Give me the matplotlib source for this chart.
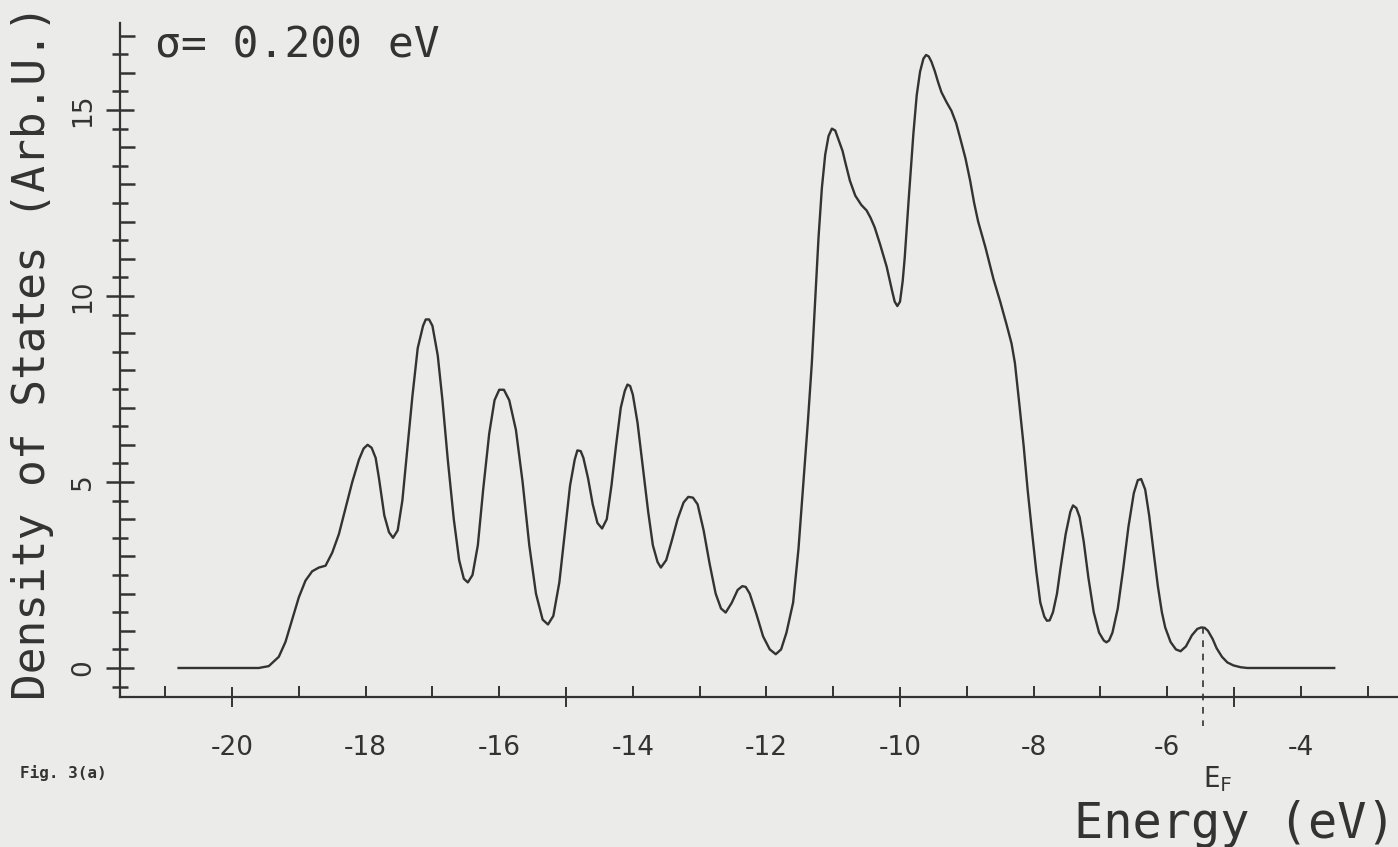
import matplotlib
matplotlib.use("Agg")
import matplotlib.pyplot as plt

# ---- data ----
energy = [-20.8, -20.0, -19.6, -19.45, -19.3, -19.2, -19.1, -19.0, -18.9, -18.8,
          -18.7, -18.6, -18.5, -18.4, -18.3, -18.2, -18.1, -18.03, -17.97, -17.91,
          -17.85, -17.8, -17.72, -17.65, -17.59, -17.52, -17.45, -17.38, -17.3, -17.22,
          -17.14, -17.1, -17.05, -17.0, -16.92, -16.85, -16.77, -16.68, -16.6, -16.53,
          -16.47, -16.4, -16.32, -16.24, -16.15, -16.07, -16.0, -15.93, -15.85, -15.75,
          -15.65, -15.55, -15.45, -15.35, -15.27, -15.19, -15.1, -15.02, -14.94, -14.87,
          -14.83, -14.78, -14.74, -14.67, -14.6, -14.53, -14.46, -14.39, -14.32, -14.25,
          -14.18, -14.12, -14.08, -14.04, -14.0, -13.93, -13.85, -13.77, -13.7, -13.63,
          -13.58, -13.5, -13.42, -13.33, -13.24, -13.17, -13.1, -13.03, -12.94, -12.85,
          -12.76, -12.68, -12.61, -12.52, -12.43, -12.36, -12.31, -12.25, -12.15, -12.05,
          -11.95, -11.86, -11.78, -11.7, -11.6, -11.52, -11.45, -11.38, -11.32, -11.27,
          -11.22, -11.17, -11.12, -11.07, -11.02, -10.97, -10.92, -10.86, -10.82, -10.75,
          -10.67, -10.58, -10.5, -10.44, -10.38, -10.3, -10.2, -10.12, -10.08, -10.04,
          -10.0, -9.96, -9.93, -9.87, -9.8, -9.75, -9.7, -9.65, -9.61, -9.57,
          -9.53, -9.48, -9.43, -9.38, -9.3, -9.23, -9.16, -9.1, -9.02, -8.95,
          -8.89, -8.83, -8.72, -8.6, -8.5, -8.4, -8.33, -8.28, -8.22, -8.15,
          -8.09, -8.03, -7.96, -7.9, -7.84, -7.8, -7.76, -7.71, -7.65, -7.6,
          -7.52, -7.45, -7.41, -7.36, -7.31, -7.25, -7.18, -7.1, -7.02, -6.95,
          -6.91, -6.87, -6.82, -6.74, -6.66, -6.58, -6.5, -6.44, -6.39, -6.33,
          -6.27, -6.21, -6.14, -6.08, -6.03, -5.95, -5.87, -5.8, -5.72, -5.63,
          -5.55, -5.49, -5.44, -5.39, -5.32, -5.26, -5.18, -5.1, -5.01, -4.9,
          -4.8, -3.5]
dos = [0, 0, 0, 0.05, 0.3, 0.7, 1.3, 1.9, 2.35, 2.6,
       2.7, 2.75, 3.1, 3.6, 4.3, 5.0, 5.6, 5.9, 6.0, 5.92,
       5.65, 5.1, 4.1, 3.65, 3.5, 3.7, 4.5, 5.8, 7.3, 8.6,
       9.2, 9.37, 9.37, 9.2, 8.4, 7.2, 5.6, 4.0, 2.9, 2.4,
       2.3, 2.5, 3.3, 4.8, 6.3, 7.2, 7.48, 7.48, 7.2, 6.4,
       5.0, 3.3, 2.0, 1.3, 1.17, 1.4, 2.3, 3.6, 4.9, 5.6,
       5.85, 5.83, 5.65, 5.1, 4.4, 3.9, 3.75, 4.0, 4.9, 6.0,
       7.0, 7.45, 7.62, 7.58, 7.35, 6.6, 5.4, 4.2, 3.3, 2.85,
       2.7, 2.9, 3.4, 4.0, 4.45, 4.6, 4.58, 4.4, 3.7, 2.8,
       2.0, 1.6, 1.49, 1.75, 2.1, 2.2, 2.18, 2.0, 1.45, 0.85,
       0.5, 0.37, 0.5, 0.95, 1.76, 3.2, 4.88, 6.6, 8.2, 9.9,
       11.57, 12.9, 13.8, 14.3, 14.5, 14.45, 14.2, 13.9, 13.6, 13.1,
       12.7, 12.45, 12.3, 12.1, 11.85, 11.4, 10.79, 10.15, 9.85, 9.73,
       9.85, 10.4, 11.02, 12.6, 14.36, 15.4, 16.03, 16.38, 16.48, 16.44,
       16.3, 16.05, 15.75, 15.48, 15.2, 14.98, 14.65, 14.25, 13.7, 13.1,
       12.5, 12.0, 11.3, 10.45, 9.85, 9.2, 8.72, 8.2, 7.2, 5.99,
       4.8, 3.76, 2.6, 1.76, 1.38, 1.27, 1.28, 1.5, 2.0, 2.65,
       3.6, 4.2, 4.37, 4.3, 4.05, 3.4, 2.43, 1.5, 0.95, 0.74,
       0.69, 0.74, 0.95, 1.6, 2.65, 3.8, 4.7, 5.05, 5.08, 4.8,
       4.1, 3.21, 2.2, 1.5, 1.09, 0.7, 0.5, 0.45, 0.58, 0.88,
       1.05, 1.09, 1.08, 1.0, 0.78, 0.53, 0.3, 0.15, 0.07, 0.02,
       0, 0]

fermi_energy = -5.47
fermi_dos = 1.09
x_ticks = list(range(-21, -2))
x_labelled = [-20, -18, -16, -14, -12, -10, -8, -6, -4]
y_ticks = [k * 0.5 for k in range(-1, 35)]
y_labelled = [0, 5, 10, 15]
sigma_text = "σ= 0.200 eV"
x_title = "Energy (eV)"
y_title = "Density of States (Arb.U.)"
fig_caption = "Fig. 3(a)"

# ---- style ----
BG = "#ebebe9"
INK = "#333333"
MONO = "DejaVu Sans Mono"

fig = plt.figure(figsize=(13.98, 8.47), dpi=100, facecolor=BG)
ax = fig.add_axes([120 / 1398, (847 - 697) / 847, (1398 - 120) / 1398, (697 - 23) / 847])
ax.set_facecolor(BG)

ax.plot(energy, dos, color=INK, lw=1.7, solid_joinstyle="round")
ax.plot([fermi_energy, fermi_energy], [fermi_dos, -1.55], color=INK, lw=1.2,
        ls=(0, (4, 4)), clip_on=False)

ax.set_xlim(-21.677, -2.545)
ax.set_ylim(-0.78, 17.34)

for s in ("top", "right"):
    ax.spines[s].set_visible(False)
for s in ("left", "bottom"):
    ax.spines[s].set_color(INK)
    ax.spines[s].set_linewidth(1.6)

ax.tick_params(axis="x", direction="in", length=8, width=1.4, color=INK,
               labelsize=19, labelcolor=INK, pad=27)
ax.tick_params(axis="y", direction="in", length=11, width=1.8, color=INK,
               labelsize=19, labelcolor=INK, pad=17)

ax.set_xticks(x_ticks)
ax.set_xticklabels([str(v) if v in x_labelled else "" for v in x_ticks])
ax.set_yticks(y_ticks)
ax.set_yticklabels([str(int(v)) if v in y_labelled else "" for v in y_ticks],
                   rotation=90, va="center")

for v, t in zip(x_ticks, ax.xaxis.get_major_ticks()):
    if v % 5 == 0:
        t.tick1line.set_marker("|")
        t.tick1line.set_markersize(14)

for v, t in zip(y_ticks, ax.yaxis.get_major_ticks()):
    if v % 5 == 0:
        t.tick1line.set_marker("_")
        t.tick1line.set_markersize(20)
    elif v % 1 != 0:
        t.tick1line.set_marker("_")
        t.tick1line.set_markersize(12)

# ---- texts ----
fig.text(155 / 1398, 1 - 45 / 847, sigma_text, family=MONO, fontsize=31,
         color=INK, ha="left", va="center")
fig.text(33 / 1398, 1 - 352 / 847, y_title, family=MONO, fontsize=32,
         color=INK, rotation=90, ha="center", va="center")
fig.text(1396 / 1398, 1 - 824 / 847, x_title, family=MONO, fontsize=35,
         color=INK, ha="right", va="center")
fig.text(20 / 1398, 1 - 773 / 847, fig_caption, family=MONO, fontsize=11.5,
         color=INK, ha="left", va="center", weight="bold")
fig.text(1203 / 1398, 1 - 779 / 847, r"$\mathregular{E_F}$", fontsize=20,
         color=INK, ha="left", va="center", family=MONO)

fig.savefig("out.png", dpi=100, facecolor=BG)
